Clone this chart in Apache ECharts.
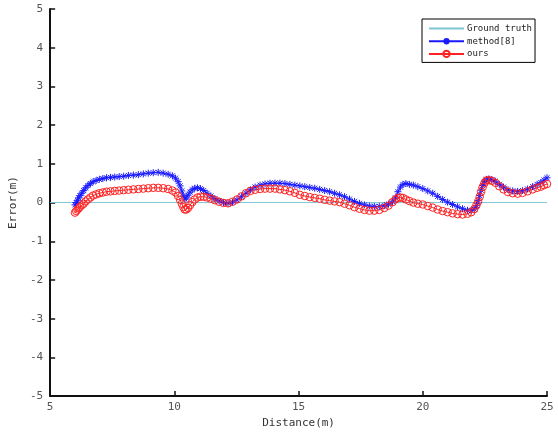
<!DOCTYPE html>
<html>
<head>
<meta charset="utf-8">
<script src="https://cdn.jsdelivr.net/npm/echarts@6/dist/echarts.min.js"></script>
<style>
  html, body { margin: 0; padding: 0; background: #fff; }
  #chart { width: 558px; height: 434px; }
</style>
</head>
<body>
<div id="chart"></div>
<script>
// distance (m) sample positions, shared by both methods
const distance = [
  6.0, 6.05, 6.1, 6.15, 6.2, 6.27, 6.35, 6.43, 6.52, 6.62, 6.73, 6.85, 6.98, 7.12, 7.27, 7.43, 7.6, 7.78, 7.96,
  8.15, 8.35, 8.55, 8.75, 8.95, 9.15, 9.35, 9.55, 9.75, 9.92, 10.05, 10.15, 10.23, 10.3, 10.36, 10.42, 10.48,
  10.55, 10.63, 10.72, 10.82, 10.93, 11.05, 11.18, 11.32, 11.47, 11.63, 11.8, 11.98, 12.16, 12.34, 12.52, 12.7,
  12.88, 13.06, 13.25, 13.45, 13.65, 13.85, 14.05, 14.25, 14.45, 14.65, 14.85, 15.05, 15.25, 15.45, 15.65, 15.85,
  16.05, 16.25, 16.45, 16.65, 16.85, 17.05, 17.25, 17.45, 17.65, 17.85, 18.05, 18.25, 18.45, 18.62, 18.78, 18.9,
  19.0, 19.1, 19.2, 19.32, 19.46, 19.62, 19.8, 20.0, 20.2, 20.4, 20.6, 20.8, 21.0, 21.2, 21.4, 21.6, 21.8, 21.95,
  22.07, 22.16, 22.23, 22.29, 22.35, 22.41, 22.48, 22.56, 22.66, 22.78, 22.92, 23.08, 23.25, 23.43, 23.62, 23.82,
  24.02, 24.22, 24.42, 24.6, 24.75, 24.88, 25.0
];

// method[8] error (m)
const methodErr = [
  -0.06, 0.0, 0.06, 0.12, 0.18, 0.24, 0.31, 0.38, 0.44, 0.49, 0.54, 0.57, 0.60, 0.62, 0.64, 0.65, 0.66, 0.67, 0.68,
  0.70, 0.71, 0.72, 0.74, 0.76, 0.77, 0.78, 0.76, 0.73, 0.69, 0.63, 0.54, 0.43, 0.30, 0.17, 0.09, 0.12,
  0.19, 0.27, 0.33, 0.37, 0.38, 0.36, 0.31, 0.24, 0.17, 0.10, 0.04, 0.00, -0.02, 0.01, 0.07, 0.15,
  0.24, 0.33, 0.40, 0.45, 0.48, 0.50, 0.50, 0.50, 0.49, 0.47, 0.45, 0.43, 0.41, 0.39, 0.37, 0.34,
  0.31, 0.28, 0.24, 0.20, 0.15, 0.09, 0.03, -0.02, -0.06, -0.09, -0.10, -0.10, -0.08, -0.04, 0.02, 0.12,
  0.28, 0.40, 0.47, 0.49, 0.47, 0.45, 0.41, 0.36, 0.30, 0.24, 0.16, 0.08, 0.01, -0.05, -0.11, -0.16, -0.20, -0.21,
  -0.17, -0.08, 0.05, 0.18, 0.32, 0.44, 0.54, 0.60, 0.61, 0.59, 0.55, 0.47, 0.40, 0.33, 0.30, 0.29,
  0.31, 0.35, 0.41, 0.47, 0.52, 0.58, 0.64
];

// ours error (m)
const oursErr = [
  -0.26, -0.22, -0.18, -0.15, -0.11, -0.07, -0.03, 0.03, 0.08, 0.13, 0.18, 0.21, 0.24, 0.26, 0.28, 0.29, 0.30, 0.31, 0.32,
  0.33, 0.34, 0.35, 0.36, 0.37, 0.38, 0.38, 0.37, 0.35, 0.31, 0.26, 0.17, 0.07, -0.03, -0.12, -0.18, -0.18,
  -0.14, -0.07, 0.01, 0.08, 0.13, 0.15, 0.15, 0.13, 0.10, 0.06, 0.02, -0.01, -0.02, 0.02, 0.08, 0.16,
  0.24, 0.30, 0.33, 0.35, 0.36, 0.36, 0.36, 0.34, 0.32, 0.29, 0.25, 0.20, 0.17, 0.14, 0.12, 0.10,
  0.07, 0.05, 0.03, 0.01, -0.03, -0.07, -0.12, -0.16, -0.19, -0.21, -0.21, -0.19, -0.14, -0.08, 0.01, 0.08,
  0.12, 0.13, 0.12, 0.08, 0.04, 0.00, -0.03, -0.05, -0.09, -0.13, -0.18, -0.22, -0.25, -0.28, -0.30, -0.31, -0.29, -0.25,
  -0.17, -0.07, 0.03, 0.15, 0.28, 0.40, 0.50, 0.57, 0.58, 0.56, 0.51, 0.42, 0.34, 0.27, 0.24, 0.23,
  0.25, 0.29, 0.34, 0.38, 0.41, 0.45, 0.48
];

// ground truth is zero error over the whole axis
const truthX = [5, 25];
const truthErr = [0, 0];

const xTicks = [5, 10, 15, 20, 25];
const yTicks = [-5, -4, -3, -2, -1, 0, 1, 2, 3, 4, 5];

const font = "DejaVu Sans Mono";
const zip = (xs, ys) => xs.map((x, i) => [x, ys[i]]);

const chart = echarts.init(document.getElementById("chart"));

const option = {
  backgroundColor: "#fff",
  animation: false,
  grid: { left: 48, right: 11, top: 9, bottom: 29 },
  legend: {
    orient: "vertical",
    left: 422,
    top: 19,
    padding: [5, 3, 4, 6],
    itemWidth: 35,
    itemHeight: 8,
    itemGap: 3.7,
    borderColor: "#000",
    borderWidth: 1,
    backgroundColor: "#fff",
    textStyle: { fontFamily: font, fontSize: 9, color: "#222", padding: [0, 0, 0, -2] },
    data: [
      // line only, no marker, like the series
      { name: "Ground truth", itemStyle: { color: "rgba(0,0,0,0)", borderWidth: 0, opacity: 0 } },
      "method[8]",
      "ours",
    ],
  },
  xAxis: {
    type: "value",
    min: xTicks[0],
    max: xTicks[xTicks.length - 1],
    interval: 5,
    name: "Distance(m)",
    nameLocation: "middle",
    nameGap: 17,
    nameTextStyle: { fontFamily: font, fontSize: 11, color: "#333" },
    axisLine: { onZero: false, lineStyle: { color: "#111", width: 2 } },
    axisTick: { inside: true, length: 5, lineStyle: { color: "#111", width: 1.5 } },
    axisLabel: { fontFamily: font, fontSize: 11, color: "#555", margin: 6 },
    splitLine: { show: false },
  },
  yAxis: {
    type: "value",
    min: yTicks[0],
    max: yTicks[yTicks.length - 1],
    interval: 1,
    name: "Error(m)",
    nameLocation: "middle",
    nameGap: 24,
    nameTextStyle: { fontFamily: font, fontSize: 11, color: "#333" },
    axisLine: { onZero: false, lineStyle: { color: "#111", width: 2 } },
    axisTick: { inside: true, length: 5, lineStyle: { color: "#111", width: 1.5 } },
    axisLabel: { fontFamily: font, fontSize: 11, color: "#555", margin: 7 },
    splitLine: { show: false },
  },
  series: [
    {
      name: "Ground truth",
      type: "line",
      data: zip(truthX, truthErr),
      symbol: "none",
      lineStyle: { color: "#7fc6d6", width: 1 },
      itemStyle: { color: "#7fc6d6" },
    },
    {
      name: "method[8]",
      type: "line",
      data: zip(distance, methodErr),
      symbol: "path://M0,-5L0,5M-5,0L5,0M-3.6,-3.6L3.6,3.6M-3.6,3.6L3.6,-3.6",
      symbolSize: 7,
      lineStyle: { color: "#1a1aff", width: 1 },
      itemStyle: { color: "#1a1aff", borderColor: "#1a1aff", borderWidth: 1 },
    },
    {
      name: "ours",
      type: "line",
      data: zip(distance, oursErr),
      symbol: "circle",
      symbolSize: 7.5,
      lineStyle: { color: "#f22", width: 1 },
      itemStyle: { color: "rgba(0,0,0,0)", borderColor: "#f22", borderWidth: 1 },
    },
  ],
};

chart.setOption(option);
</script>
</body>
</html>
